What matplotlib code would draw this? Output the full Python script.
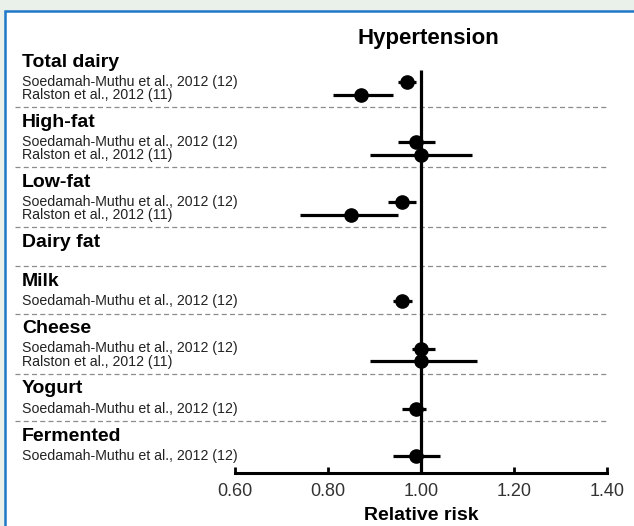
import matplotlib
matplotlib.use('Agg')
import matplotlib.pyplot as plt
import matplotlib.transforms as mtransforms
from matplotlib.patches import Rectangle

plt.rcParams['font.family'] = ['Liberation Sans', 'DejaVu Sans']

# data
groups = ['Total dairy', 'High-fat', 'Low-fat', 'Dairy fat', 'Milk', 'Cheese', 'Yogurt', 'Fermented']
study_group = [0, 0, 1, 1, 2, 2, 4, 5, 5, 6, 7]
study_names = ['Soedamah-Muthu et al., 2012 (12)', 'Ralston et al., 2012 (11)',
               'Soedamah-Muthu et al., 2012 (12)', 'Ralston et al., 2012 (11)',
               'Soedamah-Muthu et al., 2012 (12)', 'Ralston et al., 2012 (11)',
               'Soedamah-Muthu et al., 2012 (12)',
               'Soedamah-Muthu et al., 2012 (12)', 'Ralston et al., 2012 (11)',
               'Soedamah-Muthu et al., 2012 (12)',
               'Soedamah-Muthu et al., 2012 (12)']
rr      = [0.97, 0.87, 0.99, 1.00, 0.96, 0.85, 0.96, 1.00, 1.00, 0.99, 0.99]
ci_low  = [0.95, 0.81, 0.95, 0.89, 0.93, 0.74, 0.94, 0.98, 0.89, 0.96, 0.94]
ci_high = [0.99, 0.94, 1.03, 1.11, 0.99, 0.95, 0.98, 1.03, 1.12, 1.01, 1.04]
ticks = [0.60, 0.80, 1.00, 1.20, 1.40]

W, H = 634, 526
STEP = 12.6

# row layout (pixels from top)
y = 62
header_y, dash_y = [], []
study_y = [0] * len(study_names)
for g in range(len(groups)):
    header_y.append(y)
    rows = [i for i in range(len(study_names)) if study_group[i] == g]
    if rows:
        yy = y + 20
        for i in rows:
            study_y[i] = yy
            yy += STEP
        bottom = yy - STEP + 12.5
    else:
        bottom = y + 24
    if g < len(groups) - 1:
        dash_y.append(bottom)
        y = bottom + 15
axis_y = bottom + 4

fig = plt.figure(figsize=(W / 100, H / 100), dpi=100, facecolor='#eaf1ea')
fig.patches.append(Rectangle((5 / W, -0.02), 1.1, 1 - 11 / H + 0.02, transform=fig.transFigure,
                             facecolor='white', edgecolor='#1f78c8', lw=1.8, zorder=-10))

ax = fig.add_axes([15 / W, 1 - axis_y / H, 592 / W, (axis_y - 55) / H])
ax.set_zorder(5)
ax.patch.set_alpha(0)
x_left = 0.6 - (235 - 15) * (0.8 / (607 - 235))
ax.set_xlim(x_left, 1.40)
ax.set_ylim(axis_y, 55)

for d in dash_y:
    ax.axhline(d, color='#8c8c8c', lw=0.9, dashes=(4, 2.6), zorder=1)

ax.vlines(1.0, header_y[0] + 8, axis_y, color='black', lw=2.3, zorder=2)
ax.hlines(study_y, ci_low, ci_high, color='black', lw=2.3, zorder=3)
ax.plot(rr, study_y, 'o', ms=9.5, color='black', zorder=4)

for s in ['top', 'left', 'right']:
    ax.spines[s].set_visible(False)
ax.spines['bottom'].set_bounds(0.6, 1.4)
ax.spines['bottom'].set_linewidth(2.2)
ax.set_xticks(ticks)
ax.set_xticklabels(['%.2f' % t for t in ticks])
ax.tick_params(axis='x', direction='in', length=4, width=2, labelsize=13,
               labelcolor='#333333', pad=7)
ax.set_yticks([])

trans = mtransforms.blended_transform_factory(ax.transAxes, ax.transData)
for g, name in enumerate(groups):
    ax.text(0.012, header_y[g], name, transform=trans, fontsize=14,
            fontweight='bold', va='center', ha='left')
    rows = [i for i in range(len(study_names)) if study_group[i] == g]
    if rows:
        label = '\n'.join(study_names[i] for i in rows)
        ymid = sum(study_y[i] for i in rows) / len(rows)
        ax.text(0.0125, ymid, label, transform=trans, fontsize=10.2,
                color='#222222', va='center', ha='left', linespacing=0.93)

ax.text(1.015, 38, 'Hypertension', fontsize=16, fontweight='bold',
        ha='center', va='center')
ax.text(1.0, 516, 'Relative risk', fontsize=14, fontweight='bold',
        ha='center', va='center')

fig.savefig('out.png', dpi=100, facecolor=fig.get_facecolor())
